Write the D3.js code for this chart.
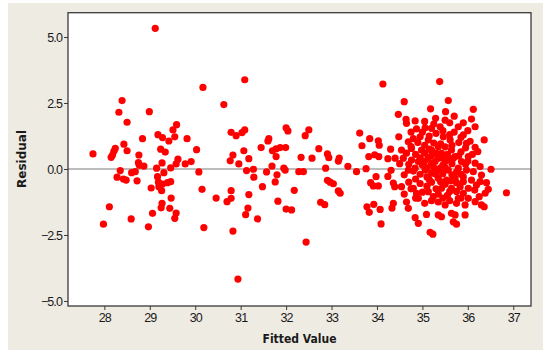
<!DOCTYPE html>
<html>
<head>
<meta charset="utf-8">
<script src="https://cdn.jsdelivr.net/npm/d3@7"></script>
<style>
  html, body { margin: 0; padding: 0; background: #ffffff; }
  svg { display: block; }
</style>
</head>
<body>
<svg id="chart" width="543" height="350"></svg>
<script>
// Residuals versus fitted values, as [fitted, residual] pairs grouped by fitted range
const lowFitted = [
  [29.12,5.33],[30.17,3.09],[28.39,2.59],[28.32,2.15],[28.99,2.17],[30.63,2.44],[28.50,1.77],[29.59,1.68],[29.51,1.48],[29.18,1.30],
  [29.28,1.19],[29.55,1.22],[29.42,1.06],[28.84,1.15],[29.82,1.15],[28.43,0.94],[28.24,0.78],[28.21,0.67],[28.18,0.53],[28.15,0.44],
  [27.75,0.57],[28.50,0.69],[29.24,0.75],[29.34,0.64],[30.03,0.73],[28.76,0.53],[29.62,0.37],[29.58,0.19],[29.78,0.19],[29.91,0.28],
  [28.75,0.24],[28.77,0.14],[28.87,0.11],[29.27,0.23],[29.15,0.03],[29.46,0.04],[28.35,-0.06],[28.60,-0.14],[28.68,-0.10],[29.31,-0.14],
  [30.08,-0.11],[28.28,-0.31],[28.42,-0.38],[28.48,-0.42],[29.17,-0.29],[28.72,-0.45],[29.19,-0.50],[29.39,-0.52],[29.46,-0.48],[29.28,-0.57],
  [29.20,-0.67],[29.03,-0.72],[29.26,-0.82],[30.15,-0.77],[29.47,-1.10],[30.46,-1.10],[30.70,-1.24],[29.27,-1.30],[28.11,-1.43],[29.25,-1.47],
  [29.44,-1.49],[29.06,-1.68],[29.58,-1.67],[29.55,-1.87],[28.59,-1.89],[27.98,-2.09],[28.97,-2.19],[30.19,-2.22]
];

const midFitted = [
  [31.09,3.38],[30.79,1.39],[30.90,1.26],[31.03,1.38],[31.09,1.48],[32.00,1.56],[32.04,1.44],[32.50,1.48],[32.42,1.26],[31.62,1.15],
  [31.60,1.06],[31.45,0.81],[31.70,0.69],[31.78,0.76],[31.87,0.81],[31.99,0.81],[31.07,0.69],[31.78,0.47],[30.83,0.53],[30.77,0.31],
  [31.18,0.39],[30.96,0.19],[32.33,0.44],[32.57,0.41],[32.72,0.77],[32.91,0.57],[32.94,0.43],[33.17,0.41],[33.15,0.30],[31.69,0.11],
  [31.13,-0.06],[31.28,-0.01],[31.57,-0.11],[31.95,0.03],[31.98,-0.04],[32.28,-0.10],[32.38,-0.10],[32.87,0.03],[33.36,0.10],[31.29,-0.31],
  [31.80,-0.22],[31.76,-0.49],[32.91,-0.43],[32.97,-0.50],[33.04,-0.56],[31.48,-0.67],[32.18,-0.81],[30.79,-0.82],[31.18,-0.97],[33.15,-0.83],
  [33.19,-0.92],[30.79,-1.11],[31.82,-1.22],[32.76,-1.26],[32.85,-1.35],[31.16,-1.48],[31.11,-1.73],[32.00,-1.52],[32.12,-1.55],[31.37,-1.89],
  [30.83,-2.35],[32.44,-2.77],[30.94,-4.17]
];

const highFitted = [
  [34.13,3.22],[34.47,2.07],[33.62,1.36],[33.84,1.15],[33.67,0.88],[34.03,1.07],[34.05,0.90],[34.48,1.22],[34.30,0.75],[33.82,0.47],
  [33.95,0.54],[34.04,0.47],[34.24,0.39],[34.40,0.41],[33.76,0.01],[33.55,-0.10],[34.31,-0.05],[34.24,-0.28],[33.98,-0.29],[33.86,-0.52],
  [33.92,-0.64],[34.03,-0.64],[34.36,-0.53],[34.39,-0.67],[33.78,-1.43],[33.93,-1.34],[34.07,-1.53],[33.83,-1.64],[34.36,-1.30],[34.33,-1.48],
  [34.09,-2.08],
  [35.38,3.31],[34.60,2.55],[35.18,2.28],[34.64,1.88],[34.65,1.73],[34.84,1.82],[35.29,1.92],[35.06,1.56],[34.87,1.52],[35.20,1.54],
  [34.69,1.03],[34.95,1.22],[35.13,1.10],[34.54,0.72],[34.76,0.78],[34.98,0.72],[35.20,0.72],[35.35,0.84],
  [34.58,0.41],[34.76,0.34],[34.91,0.28],[35.13,0.41],[35.28,0.28],[34.69,-0.04],[34.84,0.03],[35.06,-0.04],[35.20,-0.16],[35.35,-0.04],
  [34.54,-0.67],[34.80,-0.73],[34.87,-0.92],[35.13,-0.86],[35.24,-1.05],[34.91,-1.11],[34.69,-1.49],[35.09,-1.72],[34.84,-1.84],[34.91,-2.06],
  [35.35,-1.74],[35.17,-2.40],[35.23,-2.47],
  [35.57,2.59],[35.51,2.17],[36.12,2.26],[36.08,1.89],[36.16,1.60],[35.79,1.60],[35.39,1.60],[35.90,1.29],[35.97,0.97],[36.16,0.82],
  [35.46,1.22],[35.61,1.10],[35.50,0.84],[35.64,0.72],[35.42,0.59],[35.72,0.47],[36.01,0.47],
  [35.35,0.41],[35.50,0.28],[35.68,0.41],[35.86,0.28],[36.16,0.22],[35.39,0.03],[35.57,-0.04],[35.79,0.03],[35.97,-0.04],[36.12,-0.10],
  [35.35,-0.35],[35.53,-0.42],[35.72,-0.35],[35.90,-0.48],[36.08,-0.42],[35.42,-0.73],[35.64,-0.73],[35.83,-0.67],[36.01,-0.73],[36.19,-0.61],
  [35.79,-1.11],[36.01,-1.11],[36.16,-1.24],[35.75,-1.30],[35.94,-1.36],[35.50,-1.36],[35.42,-1.81],[35.64,-1.68],[35.72,-1.74],[35.94,-1.74],
  [35.68,-2.00],[35.75,-2.09],
  [36.36,1.10],[36.22,0.66],[36.27,0.09],[36.51,-0.01],[36.30,-0.23],[36.41,-0.52],[36.27,-0.48],[36.45,-0.77],[36.38,-0.92],[36.85,-0.90],
  [36.30,-1.36],[36.36,-1.43],
  [34.75,1.40],[35.00,1.40],[35.30,1.35],[35.70,1.40],[36.00,1.45],
  [34.90,1.00],[35.25,0.98],[35.80,1.00],[36.05,1.05],
  [34.65,0.60],[34.85,0.55],[35.05,0.60],[35.30,0.60],[35.55,0.55],[35.85,0.65],[36.10,0.55],
  [34.50,0.20],[34.70,0.18],[35.00,0.15],[35.20,0.20],[35.45,0.15],[35.65,0.20],[35.95,0.18],
  [34.60,-0.22],[34.95,-0.20],[35.10,-0.30],[35.30,-0.20],[35.45,-0.18],[35.65,-0.22],[35.85,-0.20],
  [34.70,-0.50],[34.95,-0.55],[35.20,-0.50],[35.50,-0.58],[35.75,-0.52],[36.15,-0.80],
  [34.60,-0.95],[35.00,-0.88],[35.35,-0.95],[35.55,-1.00],[35.90,-0.92],[36.25,-1.05],
  [34.65,-1.25],[35.05,-1.30],[35.35,-1.25],[35.60,-1.20],
  [35.05,1.80],[35.50,1.85],[35.90,1.75],[35.70,2.00],
  [34.80,1.15],[35.15,1.25],[35.45,1.45],[35.60,1.30],[35.85,1.20],
  [34.75,0.85],[35.05,0.90],[35.40,0.95],[35.65,0.90],[35.95,0.80],
  [34.95,0.42],[35.20,0.50],[35.45,0.42],[35.60,0.35],[35.80,0.50],[35.05,0.30],
  [34.80,-0.08],[35.10,0.05],[35.25,0.05],[35.50,0.05],[35.75,-0.12],[36.00,0.30],
  [34.85,-0.38],[35.15,-0.40],[35.40,-0.48],[35.62,-0.45],[35.90,-0.30],
  [34.75,-0.75],[35.10,-0.65],[35.30,-0.75],[35.60,-0.85],[35.75,-0.85],
  [34.85,-1.10],[35.20,-1.20],[35.45,-1.10],[35.85,-1.10],
  [35.25,1.70],[35.60,1.75],[35.15,0.75]
];

const xTicks = [28, 29, 30, 31, 32, 33, 34, 35, 36, 37];
const yTicks = [-5.0, -2.5, 0.0, 2.5, 5.0];
const xTitle = "Fitted Value";
const yTitle = "Residual";

const svg = d3.select("#chart");
const W = 543, H = 350;
const plot = { left: 68, top: 12.7, right: 531, bottom: 306 };

// Panel background
svg.append("rect").attr("x", 0).attr("y", 0).attr("width", W).attr("height", H).attr("fill", "#ffffff");
svg.append("rect").attr("x", 8).attr("y", 3).attr("width", W - 8).attr("height", H - 3).attr("fill", "#EEEBE2");

const x = d3.scaleLinear().domain([27.2, 37.39]).range([plot.left, plot.right]);
const y = d3.scaleLinear().domain([-5.19, 5.92]).range([plot.bottom, plot.top]);

// Data region
svg.append("rect")
  .attr("x", plot.left).attr("y", plot.top)
  .attr("width", plot.right - plot.left).attr("height", plot.bottom - plot.top)
  .attr("fill", "#ffffff");

// Zero reference line
svg.append("line")
  .attr("x1", plot.left).attr("x2", plot.right)
  .attr("y1", y(0)).attr("y2", y(0))
  .attr("stroke", "#7a7a7a").attr("stroke-width", 1.2);

// Points
const allPoints = lowFitted.concat(midFitted, highFitted);
svg.append("g")
  .selectAll("circle")
  .data(allPoints)
  .join("circle")
  .attr("cx", d => x(d[0]))
  .attr("cy", d => y(d[1]))
  .attr("r", 3.6)
  .attr("fill", "#FF0000");

// Frame
svg.append("rect")
  .attr("x", plot.left).attr("y", plot.top)
  .attr("width", plot.right - plot.left).attr("height", plot.bottom - plot.top)
  .attr("fill", "none").attr("stroke", "#3a3a3a").attr("stroke-width", 1.3);

// Axes
const tickFont = "'Liberation Sans', Arial, sans-serif";
const xAxis = d3.axisBottom(x).tickValues(xTicks).tickFormat(d3.format("d")).tickSize(4).tickPadding(3);
const gx = svg.append("g").attr("transform", `translate(0,${plot.bottom})`).call(xAxis);
const yAxis = d3.axisLeft(y).tickValues(yTicks).tickFormat(d3.format(".1f")).tickSize(4).tickPadding(2);
const gy = svg.append("g").attr("transform", `translate(${plot.left},0)`).call(yAxis);

[gx, gy].forEach(g => {
  g.select(".domain").remove();
  g.selectAll(".tick line").attr("stroke", "#3a3a3a").attr("stroke-width", 1);
  g.selectAll(".tick text")
    .attr("fill", "#1a1a1a")
    .style("font-family", tickFont)
    .style("font-size", "12.5px")
    .style("letter-spacing", "-0.9px");
});
gy.selectAll(".tick text").attr("dy", "0.36em");

// Axis titles
svg.append("text")
  .attr("x", (plot.left + plot.right) / 2)
  .attr("y", 343)
  .attr("text-anchor", "middle")
  .attr("textLength", 74)
  .attr("lengthAdjust", "spacingAndGlyphs")
  .style("font-family", "'DejaVu Sans', sans-serif")
  .style("font-weight", "bold")
  .style("font-size", "13px")
  .attr("fill", "#1a1a1a")
  .text(xTitle);

svg.append("text")
  .attr("transform", `translate(26,${159}) rotate(-90)`)
  .attr("text-anchor", "middle")
  .attr("textLength", 58)
  .attr("lengthAdjust", "spacingAndGlyphs")
  .style("font-family", "'DejaVu Sans', sans-serif")
  .style("font-weight", "bold")
  .style("font-size", "12px")
  .attr("fill", "#1a1a1a")
  .text(yTitle);
</script>
</body>
</html>
